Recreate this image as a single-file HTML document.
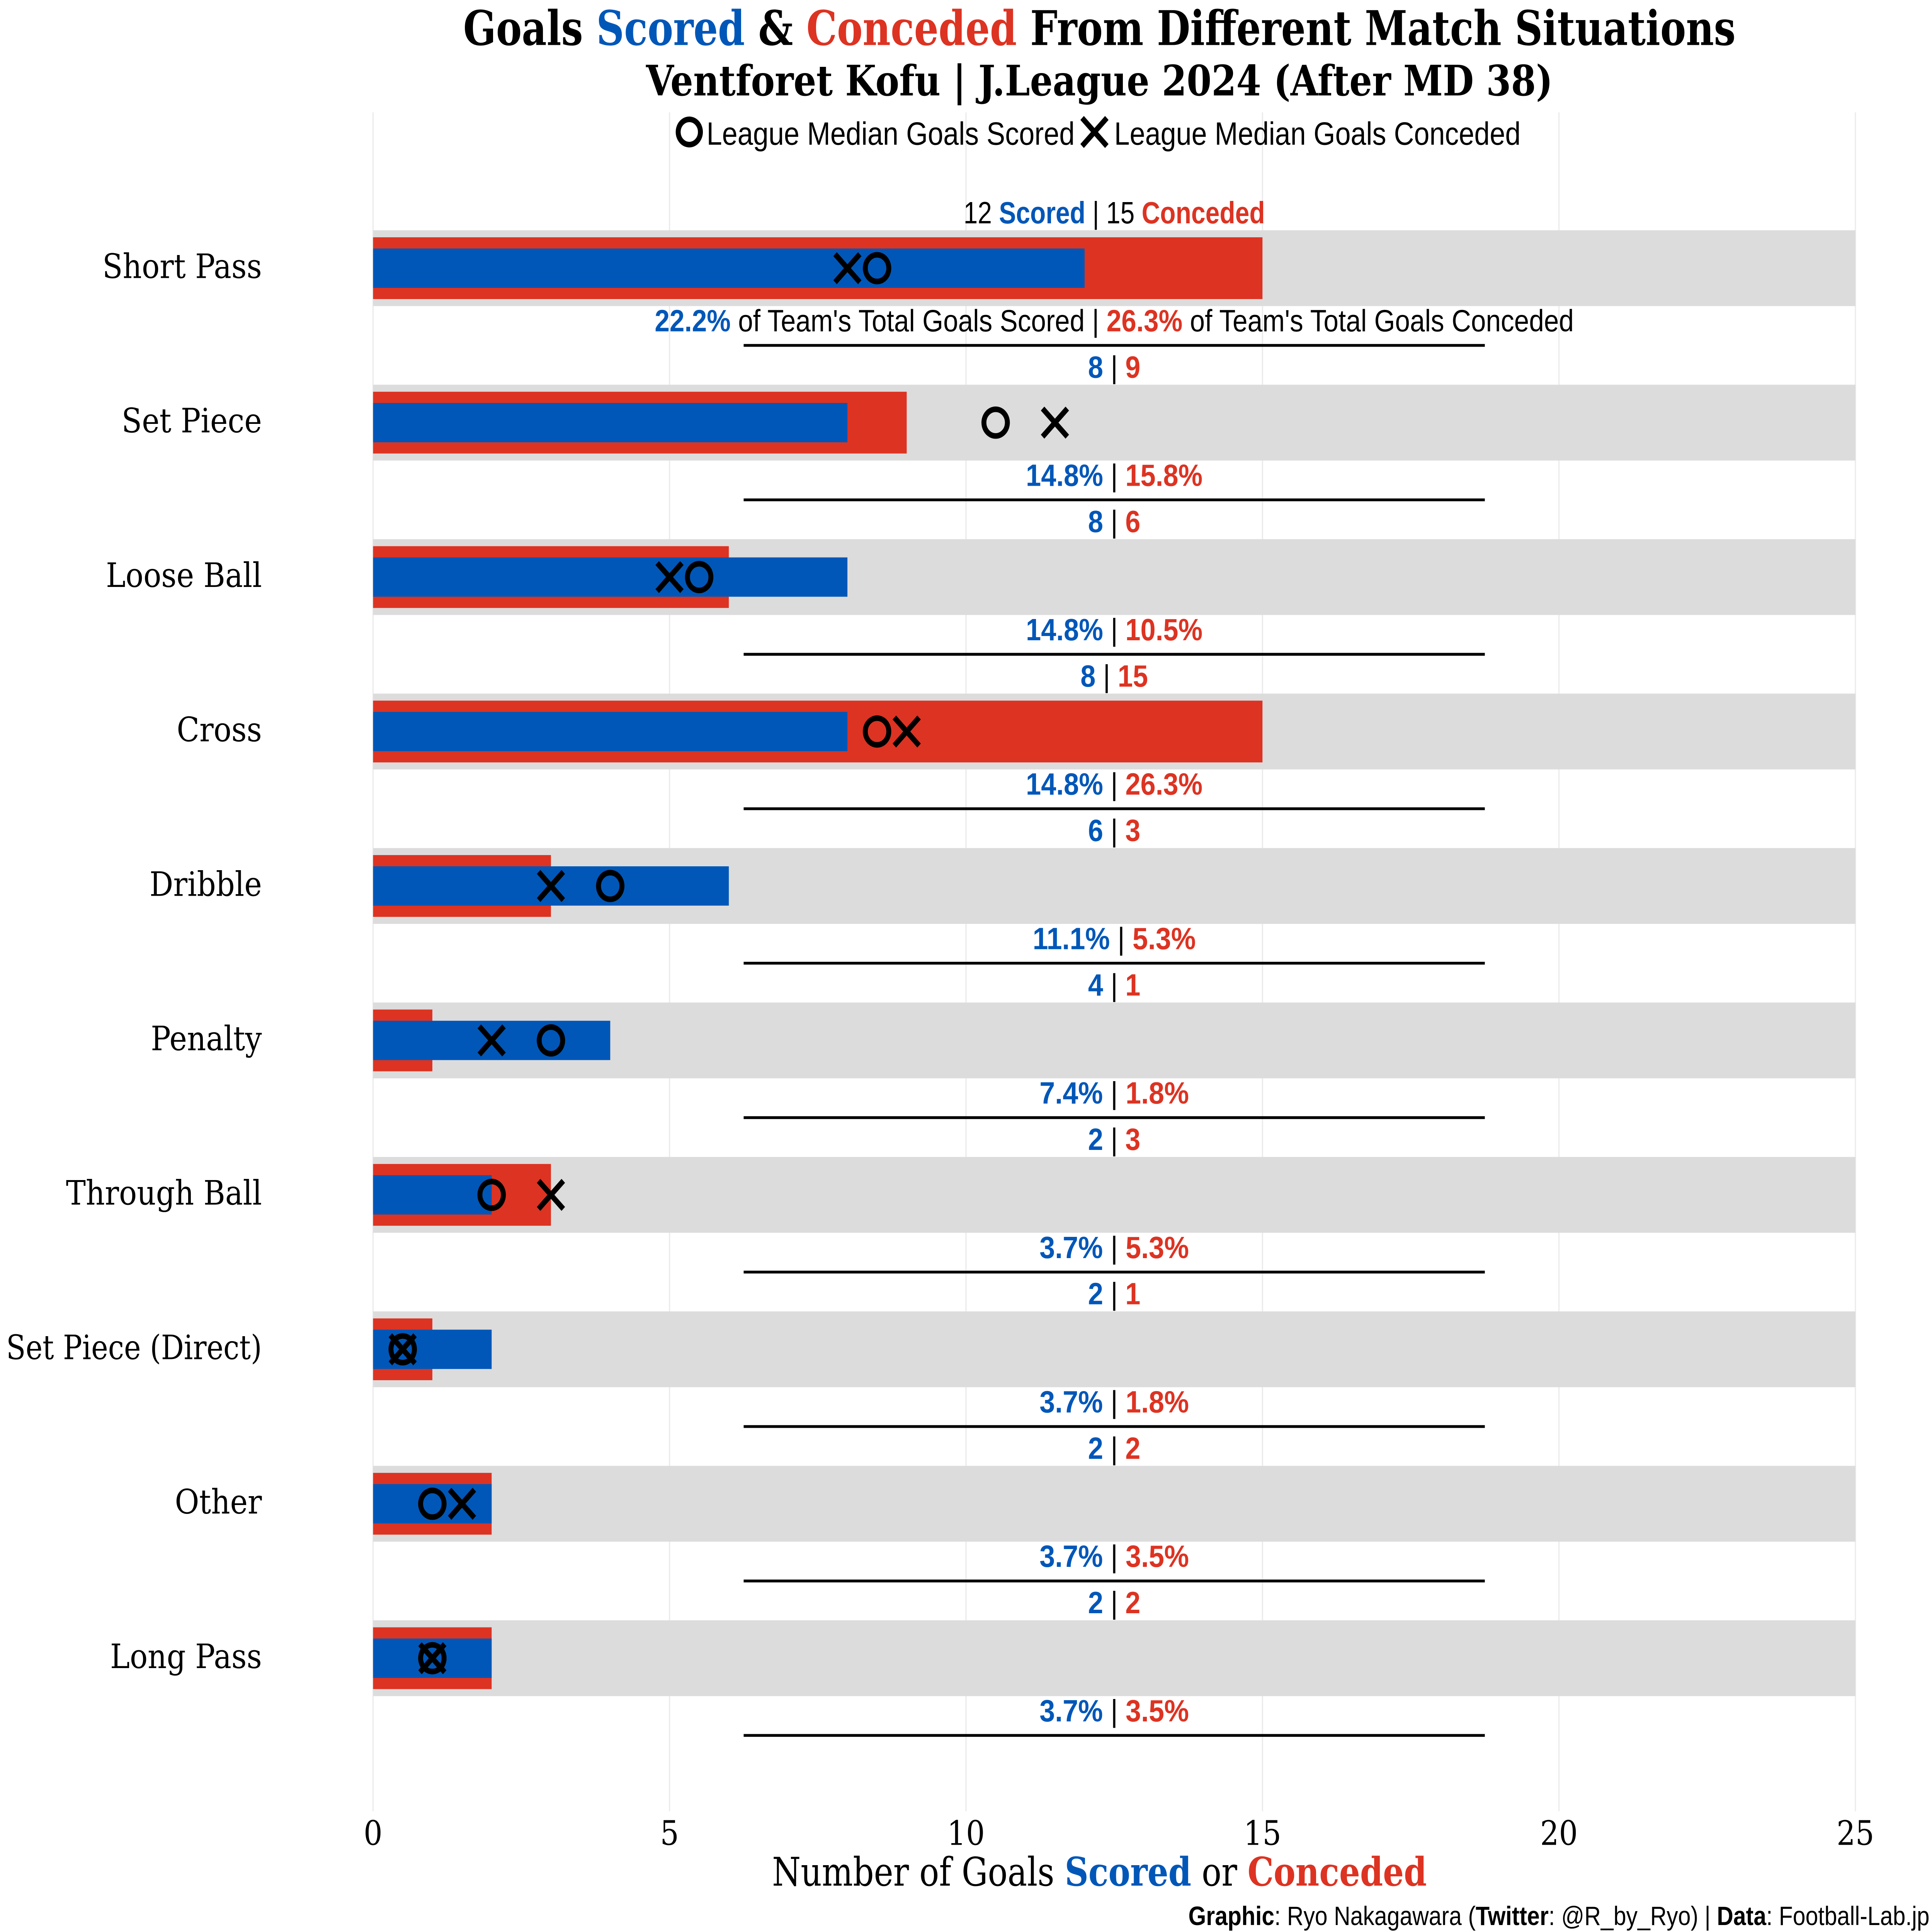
<!DOCTYPE html>
<html><head><meta charset="utf-8">
<style>
html,body{margin:0;padding:0;background:#fff;overflow:hidden;width:100%;height:100%;}
svg{display:block;width:100vw;height:100vh;}
.serif{font-family:"DejaVu Serif","Liberation Serif",serif;}
.cond{font-family:"Liberation Sans",sans-serif;}
</style></head>
<body>
<svg id="chart" xmlns="http://www.w3.org/2000/svg" viewBox="0 0 1564 1376" preserveAspectRatio="none">
<rect width="1564" height="1376" fill="#fff"/>
<g id="grid"></g>
<g id="rows"></g>
<text class="serif" x="890" y="32" text-anchor="middle" font-size="34" font-weight="bold" textLength="1030" lengthAdjust="spacingAndGlyphs">Goals <tspan fill="#0057b8">Scored</tspan> &amp; <tspan fill="#dd3322">Conceded</tspan> From Different Match Situations</text>
<text class="serif" x="890" y="68" text-anchor="middle" font-size="30" font-weight="bold" textLength="734" lengthAdjust="spacingAndGlyphs">Ventforet Kofu | J.League 2024 (After MD 38)</text>
<g>
<circle cx="558" cy="94" r="9" fill="none" stroke="#000" stroke-width="4"/>
<text class="cond" x="572" y="103" font-size="23" textLength="298" lengthAdjust="spacingAndGlyphs">League Median Goals Scored</text>
<path d="M876 84 L896 104 M896 84 L876 104" stroke="#000" stroke-width="4"/>
<text class="cond" x="902" y="103" font-size="23" textLength="329" lengthAdjust="spacingAndGlyphs">League Median Goals Conceded</text>
</g>
<g id="xticks"></g>
<text class="serif" x="890" y="1343" text-anchor="middle" font-size="28" textLength="530" lengthAdjust="spacingAndGlyphs">Number of Goals <tspan fill="#0057b8" font-weight="bold">Scored</tspan> or <tspan fill="#dd3322" font-weight="bold">Conceded</tspan></text>
<text class="cond" x="1562" y="1371" text-anchor="end" font-size="19" textLength="600" lengthAdjust="spacingAndGlyphs"><tspan font-weight="bold">Graphic</tspan>: Ryo Nakagawara (<tspan font-weight="bold">Twitter</tspan>: @R_by_Ryo) | <tspan font-weight="bold">Data</tspan>: Football-Lab.jp</text>
</svg>
<script>
const categories = ["Short Pass","Set Piece","Loose Ball","Cross","Dribble","Penalty","Through Ball","Set Piece (Direct)","Other","Long Pass"];
const scored = [12,8,8,8,6,4,2,2,2,2];
const conceded = [15,9,6,15,3,1,3,1,2,2];
const medianScored = [8.5,10.5,5.5,8.5,4,3,2,0.5,1,1];
const medianConceded = [8,11.5,5,9,3,2,3,0.5,1.5,1];
const xTicks = [0,5,10,15,20,25];

const NS="http://www.w3.org/2000/svg";
const BLUE="#0057b8", RED="#dd3322";
const x = v => 302 + v*48;
const yc = i => 190 + i*110;
const totS = scored.reduce((a,b)=>a+b,0), totC = conceded.reduce((a,b)=>a+b,0);
function mk(tag, attrs, parent){const e=document.createElementNS(NS,tag);for(const k in attrs)e.setAttribute(k,attrs[k]);parent.appendChild(e);return e;}
function tspan(parent,txt,attrs){const t=mk("tspan",attrs||{},parent);t.textContent=txt;return t;}

const grid=document.getElementById("grid");
const xt=document.getElementById("xticks");
xTicks.forEach(v=>{
  const l=mk("line",{x1:x(v),x2:x(v),y1:80,y2:1290,stroke:"#ebebeb","stroke-width":1},grid);
  
  
  const t=mk("text",{x:x(v),y:1314,"text-anchor":"middle","font-size":24,class:"serif"},xt);
  t.textContent=v;
  
  
});

const rows=document.getElementById("rows");
categories.forEach((c,i)=>{
  const cy=yc(i);
  const g=mk("g",{},rows);
  
  
  const bg=mk("rect",{x:x(0),y:cy-26,width:x(25)-x(0),height:54,fill:"#dcdcdc"},g);
  
  
  const rb=mk("rect",{x:x(0),y:cy-21,width:x(conceded[i])-x(0),height:44,fill:RED},g);
  
  
  const bb=mk("rect",{x:x(0),y:cy-13,width:x(scored[i])-x(0),height:28,fill:BLUE},g);
  
  
  const cir=mk("circle",{cx:x(medianScored[i]),cy:cy+1,r:9.5,fill:"none",stroke:"#000","stroke-width":4},g);
  
  
  const mx=x(medianConceded[i]);
  const xm=mk("path",{d:`M${mx-10} ${cy-9} L${mx+10} ${cy+11} M${mx+10} ${cy-9} L${mx-10} ${cy+11}`,stroke:"#000","stroke-width":4},g);
  
  
  const lab=mk("text",{x:212,y:cy+8,"text-anchor":"end","font-size":24,class:"serif"},g);
  lab.textContent=c;
  if(c.length>14){lab.setAttribute("textLength","207");lab.setAttribute("lengthAdjust","spacingAndGlyphs");}
  
  
  const ct=mk("text",{x:902,y:cy-31,"text-anchor":"middle","font-size":22,class:"cond"},g);
  
  
  const ps=(scored[i]/totS*100).toFixed(1)+"%", pc=(conceded[i]/totC*100).toFixed(1)+"%";
  const pt=mk("text",{x:902,y:cy+46,"text-anchor":"middle","font-size":22,class:"cond"},g);
  
  
  if(i===0){
    tspan(ct,scored[i]+" ");tspan(ct,"Scored",{fill:BLUE,"font-weight":"bold"});
    tspan(ct," | "+conceded[i]+" ");tspan(ct,"Conceded",{fill:RED,"font-weight":"bold"});
    ct.setAttribute("textLength","244");ct.setAttribute("lengthAdjust","spacingAndGlyphs");
    tspan(pt,ps,{fill:BLUE,"font-weight":"bold"});tspan(pt," of Team's Total Goals Scored | ");
    tspan(pt,pc,{fill:RED,"font-weight":"bold"});tspan(pt," of Team's Total Goals Conceded");
    pt.setAttribute("textLength","744");pt.setAttribute("lengthAdjust","spacingAndGlyphs");
  } else {
    tspan(ct,String(scored[i]),{fill:BLUE,"font-weight":"bold"});tspan(ct," | ");
    tspan(ct,String(conceded[i]),{fill:RED,"font-weight":"bold"});
    tspan(pt,ps,{fill:BLUE,"font-weight":"bold"});tspan(pt," | ");
    tspan(pt,pc,{fill:RED,"font-weight":"bold"});
    pt.setAttribute("textLength",String(pt.textContent.length*11));pt.setAttribute("lengthAdjust","spacingAndGlyphs");
  }
  const ln=mk("line",{x1:602,x2:1202,y1:cy+56,y2:cy+56,stroke:"#000","stroke-width":2},g);
  
  
});
</script>
</body></html>
